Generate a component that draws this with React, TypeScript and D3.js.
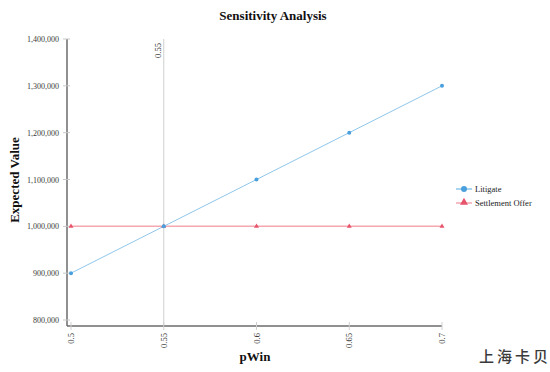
import React from "react";
import * as d3 from "d3";

const pWin = [0.5, 0.55, 0.6, 0.65, 0.7];
const litigate = [900000, 1000000, 1100000, 1200000, 1300000];
const settlement = [1000000, 1000000, 1000000, 1000000, 1000000];
const yTicks = [800000, 900000, 1000000, 1100000, 1200000, 1300000, 1400000];
const xTickLabels = ["0.5", "0.55", "0.6", "0.65", "0.7"];
const plotLineValue = 0.55;
const seriesNames = ["Litigate", "Settlement Offer"];

const W = 550;
const H = 372;
const serif = "'Liberation Serif', 'Times New Roman', serif";

export default function App() {
  const x = d3.scaleLinear().domain([0.5, 0.7]).range([71, 442]);
  const y = d3.scaleLinear().domain([800000, 1400000]).range([320, 39]);
  const axisY = 326;
  const axisX = 67;
  const fmt = d3.format(",");
  const line = d3
    .line<[number, number]>()
    .x((d) => x(d[0]))
    .y((d) => y(d[1]));
  const litPts: [number, number][] = pWin.map((p, i) => [p, litigate[i]]);
  const setPts: [number, number][] = pWin.map((p, i) => [p, settlement[i]]);
  const tri = d3.symbol().type(d3.symbolTriangle).size(11)();
  const blueLine = "#8fc7ea";
  const blueDot = "#4aa0dc";
  const redLine = "#f5a7b2";
  const redDot = "#e8546c";

  return (
    <svg
      width={W}
      height={H}
      style={{ position: "absolute", left: 0, top: 0, background: "#fff" }}
      fontFamily={serif}
    >
      <rect width={W} height={H} fill="#fff" />
      <text x={273} y={20} textAnchor="middle" fontSize={13} fontWeight="bold" fill="#111">
        Sensitivity Analysis
      </text>

      {/* plot line */}
      <line x1={x(plotLineValue)} x2={x(plotLineValue)} y1={39} y2={axisY} stroke="#cfcfcf" strokeWidth={1} />
      <text
        transform={`translate(${x(plotLineValue) - 3},43) rotate(-90)`}
        textAnchor="end"
        fontSize={8.5}
        fill="#333"
      >
        {String(plotLineValue)}
      </text>

      {/* y axis */}
      <line x1={axisX} x2={axisX} y1={39} y2={axisY} stroke="#6b6b6b" strokeWidth={1.5} />
      {yTicks.map((t) => (
        <g key={t}>
          <line x1={axisX - 4} x2={axisX + 3} y1={y(t)} y2={y(t)} stroke="#c8c8c8" strokeWidth={1} />
          <text x={59} y={y(t) + 3} textAnchor="end" fontSize={8} fill="#3a3a3a">
            {fmt(t)}
          </text>
        </g>
      ))}
      <text
        transform={`translate(19,180) rotate(-90)`}
        textAnchor="middle"
        fontSize={13}
        fontWeight="bold"
        fill="#111"
      >
        Expected Value
      </text>

      {/* x axis */}
      <line x1={axisX} x2={x(0.7)} y1={axisY} y2={axisY} stroke="#6b6b6b" strokeWidth={1.5} />
      {pWin.map((p, i) => (
        <g key={p}>
          <line x1={x(p)} x2={x(p)} y1={axisY - 4} y2={axisY + 4} stroke="#d0d0d0" strokeWidth={1} />
          <text
            transform={`translate(${x(p) + 3},333) rotate(-90)`}
            textAnchor="end"
            fontSize={8.5}
            fill="#3a3a3a"
          >
            {xTickLabels[i]}
          </text>
        </g>
      ))}
      <text x={255} y={361} textAnchor="middle" fontSize={13} fontWeight="bold" fill="#111">
        pWin
      </text>

      {/* series */}
      <path d={line(setPts) || ""} fill="none" stroke={redLine} strokeWidth={1.5} />
      <path d={line(litPts) || ""} fill="none" stroke={blueLine} strokeWidth={1} />
      {setPts.map((d, i) => (
        <path key={"s" + i} d={tri || ""} transform={`translate(${x(d[0])},${y(d[1])})`} fill={redDot} />
      ))}
      {litPts.map((d, i) => (
        <circle key={"l" + i} cx={x(d[0])} cy={y(d[1])} r={2} fill={blueDot} />
      ))}

      {/* legend */}
      <g>
        <line x1={456} x2={472} y1={189} y2={189} stroke={blueLine} strokeWidth={1.5} />
        <circle cx={464} cy={189} r={3} fill={blueDot} />
        <text x={475} y={192} fontSize={8.5} fill="#222">
          {seriesNames[0]}
        </text>
        <line x1={456} x2={472} y1={203} y2={203} stroke={redLine} strokeWidth={1.5} />
        <path d={d3.symbol().type(d3.symbolTriangle).size(28)() || ""} transform="translate(464,202.5)" fill={redDot} />
        <text x={475} y={206} fontSize={8.5} fill="#222">
          {seriesNames[1]}
        </text>
      </g>

      <text
        x={479}
        y={362}
        fontSize={15}
        fontWeight={500}
        fill="#3a3a3a"
        letterSpacing={3}
        fontFamily="'Noto Sans CJK SC', sans-serif"
      >
        上海卡贝
      </text>
    </svg>
  );
}
